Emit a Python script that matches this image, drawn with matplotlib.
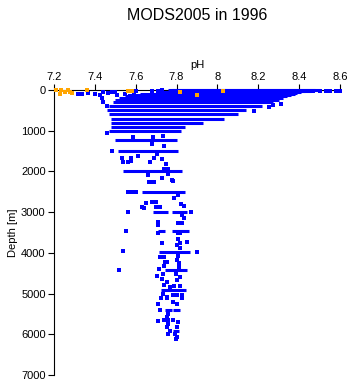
import matplotlib
matplotlib.use("Agg")
import matplotlib.pyplot as plt

plt.rcParams["font.family"] = ["Liberation Sans", "DejaVu Sans"]

# horizontal runs of samples at standard depths: depth, pH from, pH to
row_depth = [0, 10, 20, 30, 50, 75, 100, 125, 150, 200, 250, 300,
             400, 500, 600, 700, 800, 900, 1000, 1230, 1500, 2000, 2500,
             2990, 2990, 3465, 3465, 3973, 4423, 4914, 5405, 5405, 5913]
row_lo = [7.76, 7.78, 7.78, 7.80, 7.72, 7.70, 7.62, 7.58, 7.55, 7.52, 7.50, 7.49,
          7.47, 7.46, 7.47, 7.48, 7.48, 7.48, 7.47, 7.50, 7.515, 7.54, 7.63,
          7.686, 7.776, 7.711, 7.776, 7.715, 7.743, 7.724, 7.743, 7.784, 7.784]
row_hi = [8.50, 8.48, 8.46, 8.43, 8.41, 8.39, 8.38, 8.36, 8.34, 8.32, 8.30, 8.27,
          8.22, 8.14, 8.10, 8.03, 7.93, 7.84, 7.82, 7.80, 7.805, 7.825, 7.841,
          7.76, 7.852, 7.743, 7.862, 7.866, 7.852, 7.846, 7.776, 7.817, 7.813]

# single blue samples
blue_ph = [7.319, 7.336, 7.368, 7.40, 7.425, 7.441, 7.466, 7.482, 7.433, 7.441,
           7.458, 7.51, 7.531, 7.55, 7.572, 7.59, 7.61, 7.63, 7.65, 7.66,
           7.68, 7.70, 7.72, 7.74, 7.50, 7.56, 7.60, 7.68, 7.71, 7.73,
           8.47, 8.50, 8.53, 8.55, 8.58, 8.60, 8.31, 8.27, 8.25, 8.18,
           7.461, 7.588, 7.686, 7.732, 7.678, 7.74, 7.485, 7.703, 7.61, 7.531,
           7.577, 7.577, 7.539, 7.563, 7.69, 7.73, 7.67, 7.748, 7.74, 7.76,
           7.661, 7.76, 7.73, 7.779, 7.665, 7.69, 7.678, 7.781, 7.56, 7.58,
           7.60, 7.808, 7.787, 7.68, 7.70, 7.649, 7.629, 7.64, 7.70, 7.719,
           7.82, 7.838, 7.56, 7.869, 7.828, 7.836, 7.711, 7.711, 7.808, 7.828,
           7.551, 7.711, 7.808, 7.817, 7.808, 7.727, 7.817, 7.817, 7.849, 7.80,
           7.539, 7.90, 7.719, 7.74, 7.805, 7.743, 7.752, 7.80, 7.813, 7.813,
           7.74, 7.715, 7.52, 7.703, 7.732, 7.797, 7.817, 7.80, 7.73, 7.752,
           7.74, 7.768, 7.789, 7.817, 7.732, 7.752, 7.781, 7.80, 7.828, 7.722,
           7.752, 7.828, 7.781, 7.80, 7.711, 7.72, 7.759, 7.752, 7.74, 7.781,
           7.711, 7.759, 7.808, 7.759, 7.752, 7.80, 7.766, 7.759, 7.792, 7.80,
           7.797]
blue_depth = [98, 98, 66, 98, 123, 41, 66, 41, 205, 287,
              393, 123, 246, 98, 140, 70, 190, 260, 140, 240,
              160, 215, 190, 250, 45, 30, 20, 35, 30, 10,
              30, 20, 35, 25, 25, 25, 350, 380, 420, 520,
              1065, 1147, 1147, 1122, 1335, 1376, 1499, 1581, 1614, 1663,
              1680, 1737, 1761, 1761, 1680, 1703, 1777, 1826, 1941, 1941,
              2088, 2072, 2170, 2211, 2268, 2268, 2252, 2228, 2498, 2498,
              2498, 2580, 2662, 2760, 2760, 2785, 2883, 2891, 2867, 2883,
              2809, 2850, 2990, 3006, 3071, 3153, 3235, 3317, 3276, 3260,
              3465, 3522, 3522, 3522, 3661, 3751, 3760, 3883, 3743, 3817,
              3956, 3973, 4111, 4111, 4078, 4218, 4218, 4177, 4250, 4350,
              4324, 4406, 4423, 4562, 4521, 4520, 4600, 4670, 4652, 4710,
              4791, 4832, 4816, 4816, 5012, 5078, 5037, 5037, 5037, 5118,
              5118, 5118, 5200, 5258, 5258, 5405, 5504, 5585, 5651, 5651,
              5676, 5651, 5708, 5749, 5815, 5815, 5913, 5995, 5995, 6061,
              6110]

# orange samples
orange_ph = [7.208, 7.229, 7.234, 7.254, 7.27, 7.278, 7.287, 7.36, 7.564, 7.58,
             7.817, 7.899, 8.029]
orange_depth = [0, 106, 0, 42, 0, 42, 66, 0, 17, 17, 42, 123, 17]

fig = plt.figure(figsize=(3.5, 3.84), dpi=100)
ax = fig.add_axes([54 / 350, 1 - 375 / 384, 286 / 350, 285 / 384])

ax.hlines(row_depth, row_lo, row_hi, colors="#0000ff", linewidth=2.2,
          clip_on=False, zorder=3)
ax.plot(blue_ph, blue_depth, "s", color="#0000ff", markersize=2.2,
        markeredgewidth=0, clip_on=False, zorder=4)
ax.plot(orange_ph, orange_depth, "s", color="#ffa500", markersize=2.4,
        markeredgewidth=0, clip_on=False, zorder=5)

ax.set_xlim(7.2, 8.6)
ax.set_ylim(7000, 0)
ax.set_xticks([7.2, 7.4, 7.6, 7.8, 8.0, 8.2, 8.4, 8.6])
ax.set_xticklabels(["7.2", "7.4", "7.6", "7.8", "8", "8.2", "8.4", "8.6"])
ax.set_yticks(range(0, 7001, 1000))
ax.xaxis.tick_top()
ax.xaxis.set_label_position("top")
ax.spines["right"].set_visible(False)
ax.spines["bottom"].set_visible(False)
for s in ("top", "left"):
    ax.spines[s].set_linewidth(0.8)
    ax.spines[s].set_zorder(1)
ax.tick_params(direction="out", length=4, width=0.8, labelsize=8, pad=2)
ax.set_xlabel("pH", fontsize=8, labelpad=3)
ax.set_ylabel("Depth [m]", fontsize=8, labelpad=2)

fig.text(0.563, 1 - 15 / 384, "MODS2005 in 1996", ha="center", va="center",
         fontsize=11.5)

fig.savefig("out.png", dpi=100)
